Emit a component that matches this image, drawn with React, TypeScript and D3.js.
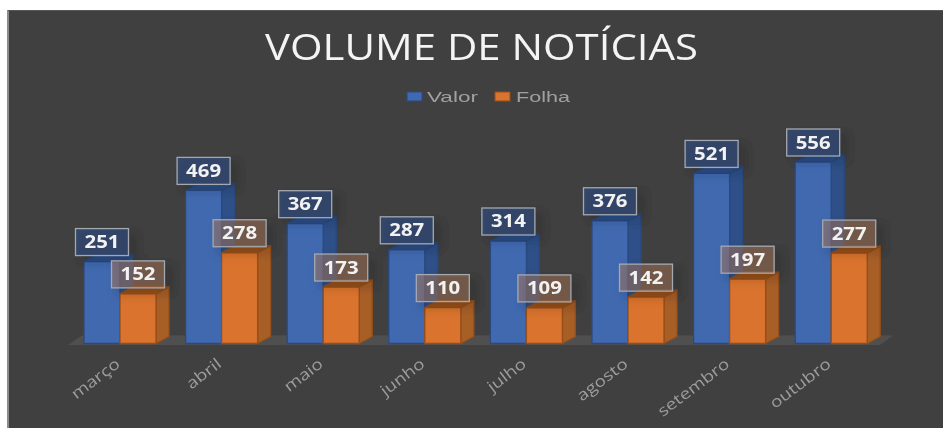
import React from "react";
import * as d3 from "d3";

const categories = ["março", "abril", "maio", "junho", "julho", "agosto", "setembro", "outubro"];
const seriesNames = ["Valor", "Folha"];
const valor = [251, 469, 367, 287, 314, 376, 521, 556];
const folha = [152, 278, 173, 110, 109, 142, 197, 277];
const title = "VOLUME DE NOTÍCIAS";

const W = 943, H = 428;
const baseY = 343.5;
const DX = 13, DY = 7;
const x = d3.scaleBand<string>().domain(categories).range([69.2, 69.2 + 101.6 * 8]).paddingInner(0.291).paddingOuter(0.1455);
const y = d3.scaleLinear().domain([0, 556]).range([baseY, 162]);
const x1 = d3.scaleBand<string>().domain(seriesNames).range([0, x.bandwidth()]);

const palette: Record<string, { front: string; side: string; top: string; stroke: string; label: string }> = {
  Valor: { front: "#4169b0", side: "#2f5088", top: "#2c4d87", stroke: "#2a4a80", label: "rgba(50,72,115,0.8)" },
  Folha: { front: "#d9732e", side: "#a85f28", top: "#97501c", stroke: "#964f1a", label: "rgba(170,120,90,0.5)" },
};

function Bar3D({ name, cat, value }: { name: string; cat: string; value: number }) {
  const c = palette[name];
  const x0 = (x(cat) ?? 0) + (x1(name) ?? 0);
  const w = x1.bandwidth();
  const top = y(value);
  const pts = (a: number[][]) => a.map((p) => p.join(",")).join(" ");
  return (
    <g stroke={c.stroke} strokeWidth={1.3} strokeLinejoin="round">
      <polygon fill={c.side} points={pts([[x0 + w, top], [x0 + w + DX, top - DY], [x0 + w + DX, baseY - DY], [x0 + w, baseY]])} />
      <polygon fill={c.top} points={pts([[x0, top], [x0 + DX, top - DY], [x0 + w + DX, top - DY], [x0 + w, top]])} />
      <rect x={x0} y={top} width={w} height={baseY - top} fill={c.front} />
    </g>
  );
}

function Label({ name, cat, value }: { name: string; cat: string; value: number }) {
  const c = palette[name];
  const cx = (x(cat) ?? 0) + (x1(name) ?? 0) + x1.bandwidth() / 2;
  const top = y(value);
  const bw = 53, bh = 27;
  const by = top - 6 - bh;
  return (
    <g>
      <rect x={cx - bw / 2 + 3} y={by + 2} width={bw + 8} height={bh + 6} fill="#000" opacity={0.12} filter="url(#shadow)" />
      <rect x={cx - bw / 2} y={by} width={bw} height={bh} fill={c.label} stroke="#a4a9b1" strokeWidth={1.3} />
      <text x={cx} y={by + bh / 2 + 6} textAnchor="middle" fontFamily="'Open Sans', sans-serif" fontWeight={700} fontSize={17.5} fill="#f2f2f2" textLength={35} lengthAdjust="spacingAndGlyphs">
        {value}
      </text>
    </g>
  );
}

export default function App() {
  return (
    <svg width={W} height={H} style={{ position: "absolute", left: 0, top: 0, background: "#fff" }}>
      <defs>
        <filter id="shadow" x="-30%" y="-30%" width="160%" height="160%">
          <feGaussianBlur stdDeviation="5" />
        </filter>
        <filter id="soft" x="-2%" y="-2%" width="104%" height="104%">
          <feGaussianBlur stdDeviation="0.55" />
        </filter>
      </defs>
      <g filter="url(#soft)">
        <rect x={8} y={10} width={W - 8} height={H - 10} fill="#404040" />
        <rect x={7} y={10} width={2} height={H - 10} fill="#8c8c8c" />
        <rect x={8} y={10} width={W - 8} height={1} fill="#595959" />
        <text x={481.5} y={60} textAnchor="middle" fontFamily="'Open Sans', sans-serif" fontSize={36} fill="#f4f4f4" textLength={433} lengthAdjust="spacingAndGlyphs">
          {title}
        </text>
        <rect x={407} y={92} width={15} height={9} fill={palette.Valor.front} stroke={palette.Valor.stroke} />
        <text x={427} y={101.5} fontFamily="'Liberation Sans', sans-serif" fontSize={15.5} fill="#a0a0a0" textLength={51} lengthAdjust="spacingAndGlyphs">{seriesNames[0]}</text>
        <rect x={495} y={92} width={15} height={9} fill={palette.Folha.front} stroke={palette.Folha.stroke} />
        <text x={516} y={101.5} fontFamily="'Liberation Sans', sans-serif" fontSize={15.5} fill="#a0a0a0" textLength={54} lengthAdjust="spacingAndGlyphs">{seriesNames[1]}</text>
        <polygon points={`68,${baseY + 1.5} 880,${baseY + 1.5} 893,${baseY - 8} 82,${baseY - 8}`} fill="#505050" />
        {categories.map((cat, i) => (
          <g key={cat}>
            <Bar3D name="Valor" cat={cat} value={valor[i]} />
            <Bar3D name="Folha" cat={cat} value={folha[i]} />
          </g>
        ))}
        {categories.map((cat, i) => (
          <g key={cat}>
            <Label name="Valor" cat={cat} value={valor[i]} />
            <Label name="Folha" cat={cat} value={folha[i]} />
          </g>
        ))}
        {categories.map((cat) => {
          const px = (x(cat) ?? 0) + x.bandwidth() / 2 + 1;
          return (
            <text key={cat} transform={`translate(${px},${366}) rotate(-37) scale(1.22,1)`} textAnchor="end" fontFamily="'Open Sans', sans-serif" fontSize={15.5} fill="#9c9c9c">
              {cat}
            </text>
          );
        })}
      </g>
    </svg>
  );
}
